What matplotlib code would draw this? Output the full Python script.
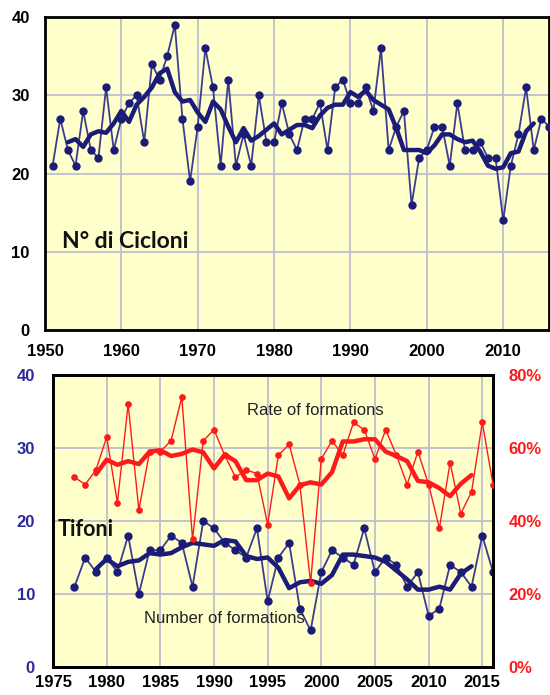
import numpy as np
import pandas as pd
import matplotlib
matplotlib.use('Agg')
import matplotlib.pyplot as plt

plt.rcParams['font.family'] = ['Liberation Sans', 'DejaVu Sans']

# top panel: number of tropical cyclones per year
years_top = list(range(1951, 2017))
cyclones = [21, 27, 23, 21, 28, 23, 22, 31, 23, 27,
            29, 30, 24, 34, 32, 35, 39, 27, 19, 26,
            36, 31, 21, 32, 21, 25, 21, 30, 24, 24,
            29, 25, 23, 27, 27, 29, 23, 31, 32, 29,
            29, 31, 28, 36, 23, 26, 28, 16, 22, 23,
            26, 26, 21, 29, 23, 23, 24, 22, 22, 14,
            21, 25, 31, 23, 27, 26]

# bottom panel: typhoons (number and rate of formations)
years_bot = list(range(1977, 2017))
typhoons = [11, 15, 13, 15, 13, 18, 10, 16, 16, 18,
            17, 11, 20, 19, 17, 16, 15, 19, 9, 15,
            17, 8, 5, 13, 16, 15, 14, 19, 13, 15,
            14, 11, 13, 7, 8, 14, 13, 11, 18, 13]
rate_pct = [52, 50, 54, 63, 45, 72, 43, 59, 59, 62,
            74, 35, 62, 65, 58, 52, 54, 53, 39, 58,
            61, 50, 23, 57, 62, 58, 67, 65, 57, 65,
            58, 50, 59, 50, 38, 56, 42, 48, 67, 50]

top_ticks = [0, 10, 20, 30, 40]
bot_ticks = [0, 10, 20, 30, 40]
pct_ticks = [0, 20, 40, 60, 80]
pct_labels = ['0%', '20%', '40%', '60%', '80%']

# 5 year running means
cyc_smooth = pd.Series(cyclones, index=years_top).rolling(5, center=True).mean()
typ_smooth = pd.Series(typhoons, index=years_bot).rolling(5, center=True).mean()
rate_smooth = pd.Series(rate_pct, index=years_bot).rolling(5, center=True).mean()

face = '#FFFFCC'
grid_c = '#BEBED0'
navy = '#1B1B78'
navy_thin = '#3B3B90'
red = '#FF1A1A'

fig = plt.figure(figsize=(5.5, 6.95), dpi=100)


def style_axes(ax):
    ax.set_facecolor(face)
    ax.grid(True, color=grid_c, lw=1.3)
    ax.set_axisbelow(True)
    for s in ax.spines.values():
        s.set_linewidth(2.0)
        s.set_color('black')
    ax.tick_params(length=0)


# ---- top panel
ax1 = fig.add_axes([0.0818, 0.5252, 0.9164, 0.4503])
style_axes(ax1)
ax1.plot(years_top, cyclones, color=navy_thin, lw=1.3, marker='o', ms=5,
         mfc=navy, mec=navy, zorder=3)
ax1.plot(cyc_smooth.index, cyc_smooth.values, color=navy, lw=3.2,
         solid_capstyle='round', zorder=4)
ax1.set_xlim(1950, 2016)
ax1.set_ylim(0, 40)
ax1.set_xticks(range(1950, 2011, 10))
ax1.set_yticks(top_ticks)
ax1.tick_params(axis='y', pad=11, labelsize=12)
ax1.tick_params(axis='x', pad=10, labelsize=12)
for lab in ax1.get_xticklabels() + ax1.get_yticklabels():
    lab.set_fontweight('bold')
ax1.text(1952.2, 11.3, 'N° di Cicloni', fontsize=16.5, fontweight='bold',
         family=['Lato', 'DejaVu Sans'], va='center', ha='left', color='#111111')

# ---- bottom panel
ax2 = fig.add_axes([0.0964, 0.0403, 0.80, 0.4201])
style_axes(ax2)
ax2.set_xlim(1975, 2016)
ax2.set_ylim(0, 40)
ax2.set_xticks(range(1975, 2016, 5))
ax2.set_yticks(bot_ticks)
ax2.tick_params(axis='y', pad=13, labelsize=12, labelcolor='#2A2A9A')
ax2.tick_params(axis='x', pad=6, labelsize=12)
for lab in ax2.get_xticklabels() + ax2.get_yticklabels():
    lab.set_fontweight('bold')

ax3 = ax2.twinx()
ax3.set_ylim(0, 80)
ax3.set_yticks(pct_ticks)
ax3.set_yticklabels(pct_labels)
ax3.tick_params(length=0, pad=11, labelsize=12, labelcolor=red)
for lab in ax3.get_yticklabels():
    lab.set_fontweight('bold')
for s in ax3.spines.values():
    s.set_linewidth(2.0)

ax2.plot(years_bot, typhoons, color=navy_thin, lw=1.3, marker='o', ms=5,
         mfc=navy, mec=navy, zorder=3)
ax2.plot(typ_smooth.index, typ_smooth.values, color=navy, lw=3.2,
         solid_capstyle='round', zorder=4)
ax3.plot(years_bot, rate_pct, color=red, lw=1.0, marker='o', ms=3.8,
         zorder=3)
ax3.plot(rate_smooth.index, rate_smooth.values, color=red, lw=3.2,
         solid_capstyle='round', zorder=4)

ax2.text(1999.4, 35.2, 'Rate of formations', fontsize=12, ha='center',
         va='center', color='#222222')
ax2.text(1991.0, 6.7, 'Number of formations', fontsize=12, ha='center',
         va='center', color='#222222')
ax2.text(1975.4, 18.8, 'Tifoni', fontsize=15.5, fontweight='bold',
         family=['Lato', 'DejaVu Sans'], ha='left', va='center', color='#111111')

fig.savefig('out.png', dpi=100)
